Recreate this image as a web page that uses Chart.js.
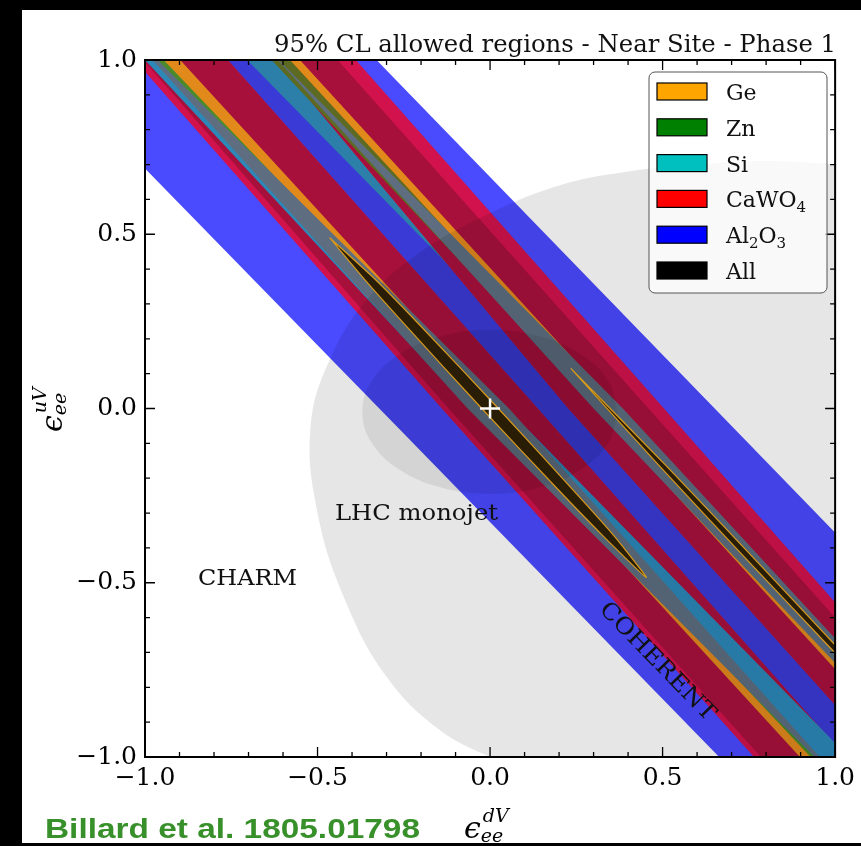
<!DOCTYPE html>
<html>
<head>
<meta charset="utf-8">
<script src="https://cdn.jsdelivr.net/npm/chart.js@4.4.1/dist/chart.umd.min.js"></script>
<style>
  html, body { margin: 0; padding: 0; background: #000; }
  canvas { display: block; }
</style>
</head>
<body>
<canvas id="chart" width="861" height="846"></canvas>
<script>
const rowY = [1, 0, -1];

// each band: x (eps_dV) of its lower-left edge and upper-right edge at rowY
// listed in drawing order, bottom first
const bandNames = ['Al2O3', 'Al2O3 overlap', 'CaWO4 A', 'CaWO4 A core', 'Si B', 'CaWO4 B', 'CaWO4 B core',
                   'Ge A', 'Zn A', 'Si A', 'mix A', 'Ge B', 'Zn B', 'mix B'];
const bandLeft = [
  [-1.307, -0.321, 0.664],
  [-0.80, 0.10, 1.00],
  [-1.03, -0.14, 0.765],
  [-1.005, -0.12, 0.785],
  [-0.704, 0.287, 1.278],
  [-0.62, 0.227, 1.136],
  [-0.62, 0.227, 1.136],
  [-0.95, -0.028, 0.898],
  [-0.965, -0.02, 0.929],
  [-1.0, -0.06, 0.941],
  [-0.978, -0.065, 0.941],
  [-0.615, 0.309, 1.233],
  [-0.633, 0.313, 1.259],
  [-0.615, 0.30, 1.259]
];
const bandRight = [
  [-0.329, 0.651, 1.631],
  [-0.62, 0.26, 1.15],
  [-0.760, 0.138, 1.031],
  [-0.760, 0.138, 1.031],
  [-0.615, 0.358, 1.331],
  [-0.389, 0.504, 1.396],
  [-0.442, 0.459, 1.36],
  [-0.898, 0.028, 0.95],
  [-0.946, 0.02, 0.962],
  [-0.964, 0.05, 1.04],
  [-0.964, 0.055, 0.955],
  [-0.551, 0.373, 1.297],
  [-0.58, 0.351, 1.297],
  [-0.612, 0.385, 1.317]
];
const bandColors = ['#4a4aff', '#3a3ad6', '#d2124c', '#a8103c', '#2b7fa8', '#d2124c', '#a8103c',
                    '#e2891c', '#4a8a2a', '#2d88b8', '#5e6e80', '#e2891c', '#5d6a22', '#5e6e80'];

// outline of the large light grey region
const bigGreyX = [1.3, 1.0, 0.8, 0.6, 0.4, 0.2, 0.0, -0.2, -0.35, -0.46, -0.52, -0.50, -0.42, -0.30, -0.15, 0.0, 0.25, 1.3];
const bigGreyY = [0.68, 0.70, 0.71, 0.70, 0.68, 0.64, 0.56, 0.45, 0.32, 0.15, -0.05, -0.30, -0.55, -0.77, -0.92, -1.0, -1.1, -1.3];

// outline of the LHC monojet region
const lhcX = [0.37, 0.342, 0.262, 0.142, 0, -0.142, -0.262, -0.342, -0.37, -0.342, -0.262, -0.142, 0, 0.142, 0.262, 0.342, 0.37];
const lhcY = [-0.01, 0.08, 0.156, 0.207, 0.225, 0.207, 0.156, 0.08, -0.01, -0.10, -0.176, -0.227, -0.245, -0.227, -0.176, -0.10, -0.01];

// combined ("All") allowed regions
const allAX = [-0.465, -0.328, -0.208, 0.024, 0.25, 0.36, 0.453, 0.328, 0.208, -0.024, -0.25, -0.36, -0.465];
const allAY = [0.49, 0.366, 0.244, 0, -0.244, -0.366, -0.485, -0.366, -0.244, 0, 0.244, 0.366, 0.49];
const allBX = [0.234, 0.51, 0.762, 1.011, 1.215, 1.193, 0.989, 0.738, 0.49, 0.234];
const allBY = [0.115, -0.164, -0.427, -0.69, -0.9, -0.9, -0.69, -0.427, -0.164, 0.115];

// Standard Model point
const smPoint = [0, 0];

const tickValues = [-1, -0.5, 0, 0.5, 1];
const tickLabels = ['\u22121.0', '\u22120.5', '0.0', '0.5', '1.0'];
const minorTicks = [-0.9, -0.8, -0.7, -0.6, -0.4, -0.3, -0.2, -0.1, 0.1, 0.2, 0.3, 0.4, 0.6, 0.7, 0.8, 0.9];

const legendNames = ['Ge', 'Zn', 'Si', 'CaWO|4', 'Al|2|O|3', 'All'];
const legendColors = ['#ffa500', '#008000', '#00bfbf', '#ff0000', '#0000ff', '#000000'];

function toPoints(xs, ys) {
  return xs.map((x, i) => ({x: x, y: ys[i]}));
}

const datasets = [];

bandNames.forEach((name, i) => {
  const pts = [];
  rowY.forEach((y, k) => pts.push({x: bandLeft[i][k], y: y}));
  for (let k = rowY.length - 1; k >= 0; k--) pts.push({x: bandRight[i][k], y: rowY[k]});
  pts.push(pts[0]);
  datasets.push({
    label: name, data: pts, fill: 'shape', backgroundColor: bandColors[i],
    borderColor: 'rgba(0,0,0,0)', borderWidth: 0, pointRadius: 0, tension: 0
  });
});

// grey regions are laid over the bands so that the bands darken inside them
datasets.push({
  label: 'CHARM', data: toPoints(bigGreyX, bigGreyY), fill: 'shape',
  backgroundColor: 'rgba(0,0,0,0.098)', borderColor: 'rgba(0,0,0,0)', borderWidth: 0,
  pointRadius: 0, tension: 0.4
});
datasets.push({
  label: 'LHC monojet', data: toPoints(lhcX, lhcY), fill: 'shape',
  backgroundColor: 'rgba(0,0,0,0.08)', borderColor: 'rgba(0,0,0,0)', borderWidth: 0,
  pointRadius: 0, tension: 0.4
});
datasets.push({
  label: 'All A', data: toPoints(allAX, allAY), fill: 'shape',
  backgroundColor: '#2a1d05', borderColor: '#d99a1a', borderWidth: 1.2,
  pointRadius: 0, tension: 0.2
});
datasets.push({
  label: 'All B', data: toPoints(allBX, allBY), fill: 'shape',
  backgroundColor: '#2a1d05', borderColor: '#d99a1a', borderWidth: 1.2,
  pointRadius: 0, tension: 0.2
});
datasets.push({
  label: 'SM', data: [{x: smPoint[0], y: smPoint[1]}], showLine: false,
  pointStyle: 'cross', pointRadius: 10, pointBorderColor: '#ffffff',
  pointBackgroundColor: '#ffffff', pointBorderWidth: 2.5
});

// first dataset must end up at the bottom
datasets.forEach((d, i) => { d.order = datasets.length - i; d.clip = 0; });

function fitText(ctx, text, x, y, width, font, align) {
  ctx.save();
  ctx.font = font;
  const w = ctx.measureText(text).width;
  ctx.translate(x, y);
  ctx.scale(width / w, 1);
  ctx.textAlign = 'left';
  ctx.fillText(text, align === 'right' ? -w : (align === 'center' ? -w / 2 : 0), 0);
  ctx.restore();
}

// text with "|" separated parts, odd parts are subscripts
function drawSubText(ctx, spec, x, y, size) {
  const parts = spec.split('|');
  let cx = x;
  parts.forEach((p, i) => {
    if (i % 2 === 0) {
      ctx.font = size + 'px "DejaVu Serif"';
      ctx.fillText(p, cx, y);
    } else {
      ctx.font = Math.round(size * 0.7) + 'px "DejaVu Serif"';
      ctx.fillText(p, cx, y + 5);
    }
    cx += ctx.measureText(p).width;
  });
}

function drawEps(ctx, x, y, sup, sub) {
  ctx.font = 'italic 30px "DejaVu Serif"';
  ctx.fillText('\u03f5', x, y);
  const w = ctx.measureText('\u03f5').width;
  ctx.font = 'italic 19px "DejaVu Serif"';
  ctx.fillText(sup, x + w + 2, y - 16);
  ctx.fillText(sub, x + w, y + 4);
}

const decor = {
  id: 'decor',
  beforeDraw(chart) {
    const ctx = chart.ctx;
    ctx.save();
    ctx.fillStyle = '#000';
    ctx.fillRect(0, 0, chart.width, chart.height);
    ctx.fillStyle = '#fff';
    ctx.fillRect(22, 10, chart.width - 22, chart.height - 13);
    ctx.restore();
  },
  afterDraw(chart) {
    const ctx = chart.ctx;
    const xs = chart.scales.x, ys = chart.scales.y;
    const a = chart.chartArea;
    ctx.save();

    // inward ticks on all four sides
    ctx.strokeStyle = '#000';
    ctx.lineWidth = 1.3;
    const tick = (v, len) => {
      const px = xs.getPixelForValue(v), py = ys.getPixelForValue(v);
      ctx.beginPath();
      ctx.moveTo(px, a.bottom); ctx.lineTo(px, a.bottom - len);
      ctx.moveTo(px, a.top); ctx.lineTo(px, a.top + len);
      ctx.moveTo(a.left, py); ctx.lineTo(a.left + len, py);
      ctx.moveTo(a.right, py); ctx.lineTo(a.right - len, py);
      ctx.stroke();
    };
    tickValues.forEach(v => tick(v, 10));
    minorTicks.forEach(v => tick(v, 5));

    // frame
    ctx.lineWidth = 2;
    ctx.strokeRect(a.left, a.top, a.right - a.left, a.bottom - a.top);

    // title
    ctx.fillStyle = '#111';
    ctx.textBaseline = 'alphabetic';
    fitText(ctx, '95% CL allowed regions - Near Site - Phase 1', 836, 52, 562, '25px "DejaVu Serif"', 'right');

    // annotations
    fitText(ctx, 'LHC monojet', 335, 520, 163, '22px "DejaVu Serif"', 'left');
    fitText(ctx, 'CHARM', 198, 585, 99, '22px "DejaVu Serif"', 'left');
    ctx.save();
    ctx.translate(657, 662);
    ctx.rotate(0.80);
    ctx.textBaseline = 'middle';
    fitText(ctx, 'COHERENT', 0, 0, 156, '23px "DejaVu Serif"', 'center');
    ctx.restore();

    // axis labels
    ctx.fillStyle = '#000';
    ctx.textBaseline = 'alphabetic';
    drawEps(ctx, 464, 838, 'dV', 'ee');
    ctx.save();
    ctx.translate(62, 432);
    ctx.rotate(-Math.PI / 2);
    drawEps(ctx, 0, 0, 'uV', 'ee');
    ctx.restore();

    // reference
    ctx.fillStyle = '#38902a';
    fitText(ctx, 'Billard et al. 1805.01798', 45, 838, 375, 'bold 28px "Liberation Sans"', 'left');

    // legend
    const lx = 649, ly = 72, lw = 178, lh = 221, r = 6;
    ctx.beginPath();
    ctx.moveTo(lx + r, ly);
    ctx.arcTo(lx + lw, ly, lx + lw, ly + lh, r);
    ctx.arcTo(lx + lw, ly + lh, lx, ly + lh, r);
    ctx.arcTo(lx, ly + lh, lx, ly, r);
    ctx.arcTo(lx, ly, lx + lw, ly, r);
    ctx.closePath();
    ctx.fillStyle = 'rgba(255,255,255,0.75)';
    ctx.fill();
    ctx.strokeStyle = '#555';
    ctx.lineWidth = 1;
    ctx.stroke();
    legendNames.forEach((name, i) => {
      const y0 = 83 + i * 35.8;
      ctx.fillStyle = legendColors[i];
      ctx.fillRect(657, y0, 50, 17);
      ctx.strokeStyle = '#000';
      ctx.lineWidth = 1.2;
      ctx.strokeRect(657, y0, 50, 17);
      ctx.fillStyle = '#111';
      drawSubText(ctx, name, 726, y0 + 17, 22);
    });

    ctx.restore();
  }
};

new Chart(document.getElementById('chart'), {
  type: 'line',
  data: { datasets: datasets },
  plugins: [decor],
  options: {
    responsive: false,
    animation: false,
    devicePixelRatio: 1,
    layout: { padding: { left: 0, right: 23, top: 60, bottom: 49 } },
    plugins: { legend: { display: false }, tooltip: { enabled: false } },
    scales: {
      x: {
        type: 'linear', min: -1, max: 1,
        afterBuildTicks: s => { s.ticks = tickValues.map(v => ({value: v})); },
        afterFit: s => { s.height = 40; },
        grid: { display: false, drawTicks: false },
        border: { display: false },
        ticks: {
          callback: (v, i) => tickLabels[i], autoSkip: false, maxRotation: 0,
          color: '#000', padding: 6, font: { family: 'DejaVu Serif', size: 25 }
        }
      },
      y: {
        type: 'linear', min: -1, max: 1,
        afterBuildTicks: s => { s.ticks = tickValues.map(v => ({value: v})); },
        afterFit: s => { s.width = 145; },
        grid: { display: false, drawTicks: false },
        border: { display: false },
        ticks: {
          callback: (v, i) => tickLabels[i], autoSkip: false,
          color: '#000', padding: 8, font: { family: 'DejaVu Serif', size: 25 }
        }
      }
    }
  }
});
</script>
</body>
</html>
